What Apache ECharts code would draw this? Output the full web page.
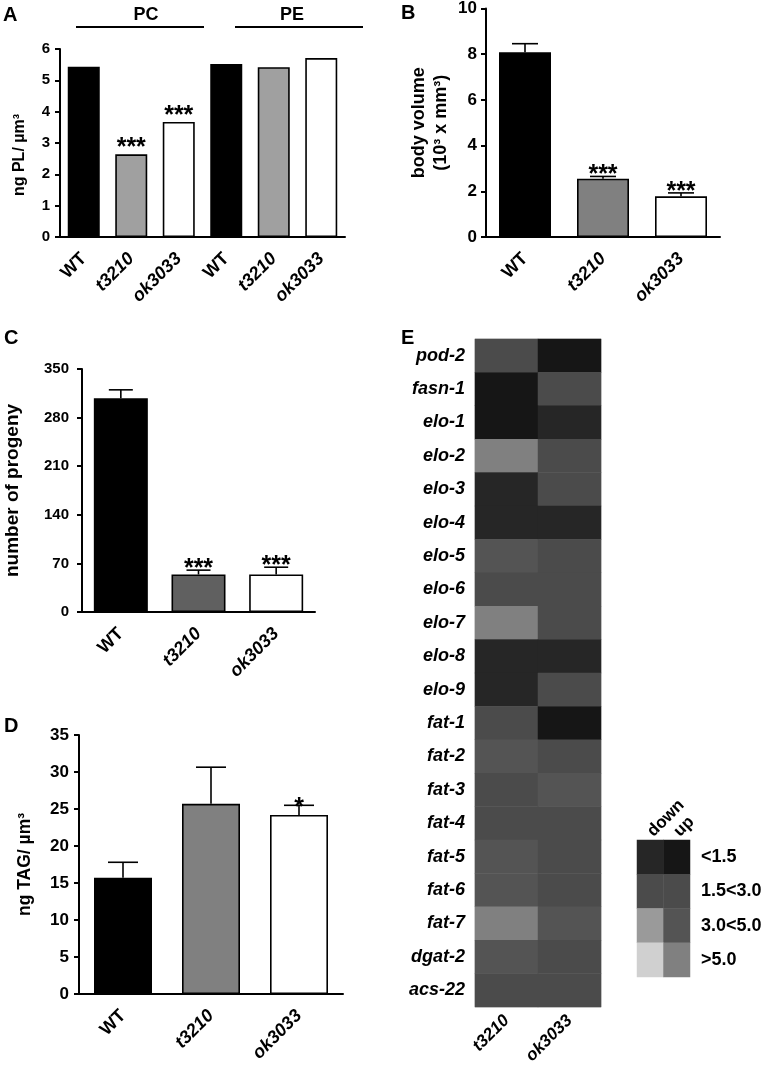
<!DOCTYPE html>
<html><head><meta charset="utf-8">
<script src="https://cdn.jsdelivr.net/npm/echarts@6/dist/echarts.min.js"></script>
<style>html,body{margin:0;padding:0;background:#fff}#c{width:767px;height:1068px}</style>
</head><body><div id="c"></div>
<script>
// ---------- DATA ----------
const catsA = ['WT', 't3210', 'ok3033', 'WT', 't3210', 'ok3033'];
const valuesA = [5.43, 2.64, 3.67, 5.52, 5.42, 5.71];
const sigA = ['', '***', '***', '', '', ''];
const groupsA = ['PC', 'PE'];

const catsBCD = ['WT', 't3210', 'ok3033'];
const valuesB = [8.08, 2.55, 1.78];
const errB = [0.38, 0.10, 0.15];
const sigB = ['', '***', '***'];

const valuesC = [308, 54, 54];
const errC = [12, 6.3, 10.5];
const sigC = ['', '***', '***'];

const valuesD = [15.7, 25.7, 24.2];
const errD = [2.1, 4.95, 1.3];
const sigD = ['', '', '*'];

const genes = ['pod-2','fasn-1','elo-1','elo-2','elo-3','elo-4','elo-5','elo-6','elo-7','elo-8','elo-9',
               'fat-1','fat-2','fat-3','fat-4','fat-5','fat-6','fat-7','dgat-2','acs-22'];
const strains = ['t3210', 'ok3033'];
// regulation class per gene: up1/dn1 = <1.5, mid = 1.5<3.0, up3/dn3 = 3.0<5.0, up5/dn5 = >5.0
const regT3210  = ['mid','up1','up1','up5','dn1','dn1','up3','mid','up5','dn1','dn1',
                   'mid','up3','mid','mid','up3','up3','up5','up3','mid'];
const regOk3033 = ['up1','mid','dn1','mid','mid','dn1','mid','mid','mid','dn1','mid',
                   'up1','mid','up3','mid','mid','mid','up3','mid','mid'];
const legendRows = ['<1.5', '1.5<3.0', '3.0<5.0', '>5.0'];
const legendCols = ['down', 'up'];
const legendDown = ['dn1', 'mid', 'dn3', 'dn5'];
const legendUp   = ['up1', 'mid', 'up3', 'up5'];

// ---------- STYLE ----------
const FONT = '"Liberation Sans", Arial, Helvetica, sans-serif';
const CLASSES = ['up1','dn1','mid','up3','dn3','up5','dn5'];
const PALETTE = {up1:'#161616', dn1:'#262626', mid:'#4b4b4b', up3:'#545454', dn3:'#9a9a9a', up5:'#808080', dn5:'#d0d0d0'};

const chart = echarts.init(document.getElementById('c'), null, {renderer:'canvas'});

function xAx(gi, cats, margin) {
  return {
    type:'category', gridIndex:gi, data:cats,
    axisLine:{lineStyle:{color:'#000', width:2}},
    axisTick:{alignWithLabel:true, length:7, lineStyle:{color:'#000', width:2}},
    axisLabel:{rotate:45, margin:margin, interval:0, color:'#000', fontFamily:FONT, fontSize:18, fontWeight:'bold',
      formatter: v => v === 'WT' ? v : '{i|' + v + '}',
      rich:{i:{fontStyle:'italic', fontWeight:'bold', fontSize:18, fontFamily:FONT, color:'#000'}}}
  };
}
function yAx(gi, max, interval, name, gap, nsize, tsize, tmargin, pad) {
  return {
    type:'value', gridIndex:gi, min:0, max:max, interval:interval,
    name:name, nameLocation:'middle', nameGap:gap, nameRotate:90,
    nameTextStyle:{color:'#000', fontFamily:FONT, fontSize:nsize, fontWeight:'bold', padding:pad || 0, lineHeight:nsize + 4},
    axisLine:{show:true, lineStyle:{color:'#000', width:2}},
    axisTick:{show:true, length:5, lineStyle:{color:'#000', width:2}},
    splitLine:{show:false},
    axisLabel:{margin:tmargin, color:'#000', fontFamily:FONT, fontSize:tsize, fontWeight:'bold'}
  };
}
function barSeries(gi, vals, colors, bw) {
  return {
    type:'bar', xAxisIndex:gi, yAxisIndex:gi, barWidth:bw, silent:true,
    data: vals.map((v, i) => ({value:v, itemStyle:{color:colors[i % colors.length]}})),
    itemStyle:{borderColor:'#000', borderWidth:1.6}
  };
}
function errSeries(gi, vals, errs, sigs, capW, starSize, starGap) {
  return {
    type:'custom', xAxisIndex:gi, yAxisIndex:gi, silent:true, z:5,
    data: vals.map((v, i) => [i, v, v + (errs ? errs[i] : 0)]),
    renderItem: (params, api) => {
      const i = api.value(0), v = api.value(1), e = api.value(2);
      const base = api.coord([i, v]), top = api.coord([i, e]);
      const ch = [];
      if (e > v) {
        ch.push({type:'line', shape:{x1:base[0], y1:base[1], x2:top[0], y2:top[1]}, style:{stroke:'#000', lineWidth:1.6}});
        ch.push({type:'line', shape:{x1:top[0] - capW/2, y1:top[1], x2:top[0] + capW/2, y2:top[1]}, style:{stroke:'#000', lineWidth:1.6}});
      }
      const s = sigs[params.dataIndex];
      if (s) ch.push({type:'text', x:top[0], y:top[1] - starGap,
        style:{text:s, fill:'#000', font:'bold ' + starSize + 'px ' + FONT, textAlign:'center', textVerticalAlign:'middle'}});
      return {type:'group', children:ch};
    }
  };
}

const heatData = [];
genes.forEach((g, j) => {
  [regT3210, regOk3033].forEach((arr, i) => {
    heatData.push({value:[i, j, CLASSES.indexOf(arr[j])], itemStyle:{color:PALETTE[arr[j]]}});
  });
});
const legData = [];
legendRows.forEach((r, j) => {
  [legendDown, legendUp].forEach((arr, i) => {
    legData.push({value:[i, j, CLASSES.indexOf(arr[j])], itemStyle:{color:PALETTE[arr[j]]}});
  });
});

const option = {
  animation:false,
  backgroundColor:'#fff',
  textStyle:{fontFamily:FONT},
  grid:[
    {left:60, top:49, width:285, height:188},     // A
    {left:486, top:7, width:234, height:230},     // B
    {left:71, top:369, width:244, height:243},    // C
    {left:79, top:735, width:264, height:259},    // D
    {left:475, top:339, width:126, height:668, show:true, borderColor:'#d0d0d0', borderWidth:1, backgroundColor:'transparent'}, // E
    {left:637, top:840, width:53, height:137}     // legend
  ],
  xAxis:[
    xAx(0, catsA, 19), xAx(1, catsBCD, 19), xAx(2, catsBCD, 19), xAx(3, catsBCD, 19),
    {type:'category', gridIndex:4, data:strains, axisLine:{show:false}, axisTick:{show:false},
     axisLabel:{rotate:45, margin:11, interval:0, color:'#000', fontFamily:FONT, fontSize:17, fontWeight:'bold', fontStyle:'italic'}},
    {type:'category', gridIndex:5, data:legendCols, position:'top', axisLine:{show:false}, axisTick:{show:false},
     axisLabel:{rotate:-45, margin:6, interval:0, color:'#000', fontFamily:FONT, fontSize:17, fontWeight:'bold'}}
  ],
  yAxis:[
    yAx(0, 6, 1, 'ng PL/ µm³', 30, 16, 15, 10, [0, 24, 0, 0]),
    yAx(1, 10, 2, 'body volume\n(10³ x mm³)', 34, 18, 17, 9),
    yAx(2, 350, 70, 'number of progeny', 58, 19, 15, 13),
    yAx(3, 35, 5, 'ng TAG/ µm³', 43, 17.5, 17, 10),
    {type:'category', gridIndex:4, data:genes, inverse:true, axisLine:{show:false}, axisTick:{show:false},
     axisLabel:{margin:10, interval:0, color:'#000', fontFamily:FONT, fontSize:18, fontWeight:'bold', fontStyle:'italic'}},
    {type:'category', gridIndex:5, data:legendRows, inverse:true, position:'right', axisLine:{show:false}, axisTick:{show:false},
     axisLabel:{margin:11, interval:0, color:'#000', fontFamily:FONT, fontSize:18, fontWeight:'bold'}}
  ],
  series:[
    barSeries(0, valuesA, ['#000000', '#a0a0a0', '#ffffff'], 32),
    errSeries(0, valuesA, null, sigA, 0, 25, 6),
    barSeries(1, valuesB, ['#000000', '#808080', '#ffffff'], 52),
    errSeries(1, valuesB, errB, sigB, 26, 25, 1),
    barSeries(2, valuesC, ['#000000', '#606060', '#ffffff'], 54),
    errSeries(2, valuesC, errC, sigC, 24, 25, 1),
    barSeries(3, valuesD, ['#000000', '#808080', '#ffffff'], 58),
    errSeries(3, valuesD, errD, sigD, 30, 25, -3),
    {type:'heatmap', xAxisIndex:4, yAxisIndex:4, data:heatData, silent:true, itemStyle:{borderWidth:0}},
    {type:'heatmap', xAxisIndex:5, yAxisIndex:5, data:legData, silent:true, itemStyle:{borderWidth:0}}
  ],
  graphic:[
    {type:'text', left:3, top:5, style:{text:'A', font:'bold 20px ' + FONT, fill:'#000'}},
    {type:'text', left:401, top:3, style:{text:'B', font:'bold 20px ' + FONT, fill:'#000'}},
    {type:'text', left:4, top:328, style:{text:'C', font:'bold 20px ' + FONT, fill:'#000'}},
    {type:'text', left:4, top:716, style:{text:'D', font:'bold 20px ' + FONT, fill:'#000'}},
    {type:'text', left:401, top:328, style:{text:'E', font:'bold 20px ' + FONT, fill:'#000'}},
    {type:'text', x:146, y:15, style:{text:groupsA[0], font:'bold 18px ' + FONT, fill:'#000', textAlign:'center', textVerticalAlign:'middle'}},
    {type:'text', x:292, y:15, style:{text:groupsA[1], font:'bold 18px ' + FONT, fill:'#000', textAlign:'center', textVerticalAlign:'middle'}},
    {type:'line', shape:{x1:76, y1:27, x2:204, y2:27}, style:{stroke:'#000', lineWidth:2}},
    {type:'line', shape:{x1:235, y1:27, x2:363, y2:27}, style:{stroke:'#000', lineWidth:2}}
  ]
};
chart.setOption(option);
</script></body></html>
